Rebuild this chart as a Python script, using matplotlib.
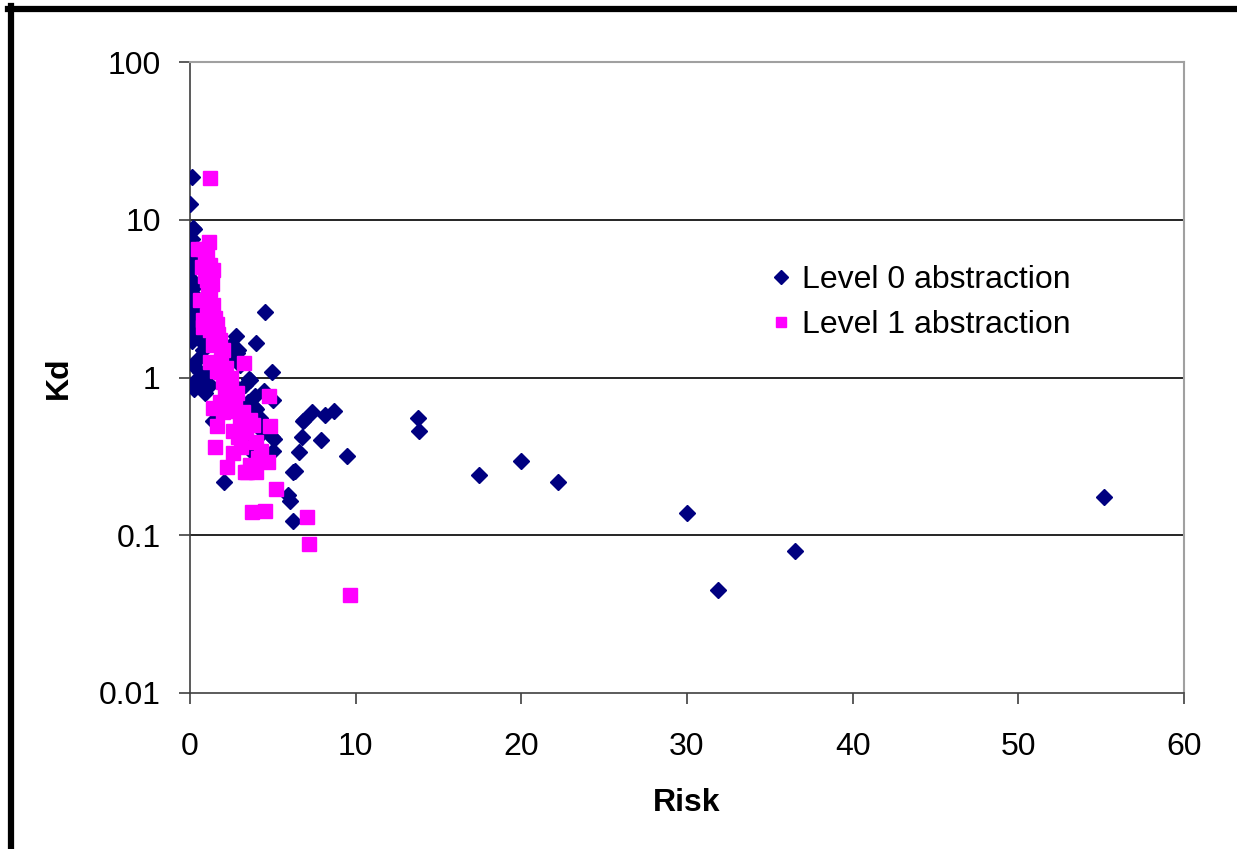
import matplotlib
matplotlib.use("Agg")
import matplotlib.pyplot as plt
from matplotlib.lines import Line2D
from matplotlib.ticker import FixedLocator, FixedFormatter, NullLocator

plt.rcParams['font.family'] = ['Liberation Sans', 'DejaVu Sans']

# Level 0 abstraction (navy diamonds)
risk0 = [0.12, 0.0, 0.25, 0.18, 0.1, 0.0, 0.0, 0.1, 0.3, 0.4, 0.0, 0.5, 0.3, 0.2,
         0.6, 0.8, 0.6, 0.3, 0.9, 0.24, 0.8, 1.4, 2.8, 2.9, 2.84, 2.7, 4.0, 4.5,
         3.6, 3.56, 4.95, 5.0, 3.9, 4.47, 4.0, 3.9, 4.1, 4.95, 5.0, 5.07, 3.74,
         2.05, 6.34, 6.2, 6.76, 6.8, 6.9, 7.36, 8.15, 8.7, 7.9, 6.6, 9.47,
         5.9, 6.03, 6.2, 13.76, 13.8, 17.44, 20.0, 22.2, 30.0, 31.9, 36.5, 55.2,
         0.05, 0.2, 0.15, 0.35, 0.1, 0.4, 0.5, 0.2, 0.7, 1.0, 1.2, 0.6, 0.3, 1.6,
         2.3, 2.5, 3.0, 3.3, 3.5, 2.9, 4.2, 4.4, 3.6, 4.3]
kd0 = [18.7, 12.6, 8.8, 8.9, 7.5, 6.4, 5.6, 4.8, 3.8, 3.1, 2.8, 2.7, 2.1, 1.93,
       1.74, 1.5, 1.08, 0.93, 0.8, 0.84, 1.05, 0.53, 1.82, 1.5, 1.44, 1.4, 1.66, 2.62,
       0.97, 0.985, 1.09, 0.72, 0.76, 0.82, 0.63, 0.64, 0.49, 0.42, 0.34, 0.405, 0.335,
       0.217, 0.254, 0.25, 0.42, 0.53, 0.54, 0.60, 0.575, 0.61, 0.40, 0.335, 0.316,
       0.18, 0.164, 0.123, 0.55, 0.455, 0.24, 0.294, 0.217, 0.138, 0.045, 0.080, 0.174,
       4.2, 3.4, 2.4, 2.3, 1.7, 1.3, 1.0, 1.2, 0.95, 1.1, 0.9, 5.0, 6.0, 1.2,
       1.3, 1.6, 1.2, 0.9, 0.7, 0.85, 0.55, 0.45, 0.4, 0.3]

# Level 1 abstraction (magenta squares)
risk1 = [1.21, 1.15, 0.8, 0.9, 1.4, 1.03, 1.2, 1.1, 1.3, 1.6, 1.8, 2.0, 0.8, 0.6,
         0.48, 0.8, 1.2, 1.8, 2.0, 2.1, 2.84, 3.26, 4.77, 1.4, 2.0, 2.3, 3.2, 3.6,
         1.6, 2.6, 4.83, 1.5, 3.1, 4.0, 4.1, 2.23, 3.44, 4.7, 3.3, 4.0, 5.2, 3.74,
         4.5, 7.06, 7.18, 9.66,
         0.7, 1.0, 1.2, 0.9, 1.3, 1.1, 1.4, 1.0, 1.5, 1.2, 1.7, 1.4, 1.9, 1.6,
         2.2, 2.5, 2.4, 1.8, 2.7, 3.0, 2.9, 3.4, 3.8, 2.6, 3.6, 4.3]
kd1 = [18.4, 7.2, 6.5, 5.6, 4.8, 4.17, 3.6, 3.1, 2.7, 2.17, 1.74, 1.5, 2.33, 3.1,
       6.5, 2.1, 1.26, 1.08, 0.93, 0.84, 0.80, 1.24, 0.76, 0.64, 0.6, 0.61, 0.6, 0.54,
       0.49, 0.455, 0.49, 0.36, 0.36, 0.39, 0.31, 0.27, 0.25, 0.29, 0.25, 0.25, 0.195, 0.14,
       0.142, 0.13, 0.088, 0.042,
       5.0, 6.0, 5.2, 4.4, 3.9, 3.4, 2.9, 2.5, 2.4, 2.0, 1.9, 1.6, 1.3, 1.1,
       1.15, 1.0, 0.75, 0.7, 0.65, 0.5, 0.42, 0.45, 0.5, 0.33, 0.28, 0.34]

x_ticks = [0, 10, 20, 30, 40, 50, 60]
y_ticks = [0.01, 0.1, 1, 10, 100]
y_tick_labels = ['0.01', '0.1', '1', '10', '100']

fig = plt.figure(figsize=(12.37, 8.49), dpi=100)
ax = fig.add_axes([190 / 1237, 1 - 693 / 849, 994 / 1237, 631 / 849])

ax.plot(risk0, kd0, linestyle='none', marker='D', markersize=8.5,
        color='#000080', label='Level 0 abstraction', zorder=3)
ax.plot(risk1, kd1, linestyle='none', marker='s', markersize=9.5,
        color='#FF00FF', label='Level 1 abstraction', zorder=3)

ax.set_yscale('log')
ax.set_xlim(0, 60)
ax.set_ylim(0.01, 100)
ax.xaxis.set_major_locator(FixedLocator(x_ticks))
ax.yaxis.set_major_locator(FixedLocator(y_ticks))
ax.yaxis.set_major_formatter(FixedFormatter(y_tick_labels))
ax.yaxis.set_minor_locator(NullLocator())

for v in [0.1, 1, 10]:
    ax.axhline(v, color='black', linewidth=1.2, zorder=1)

ax.spines['top'].set_color('#a0a0a0')
ax.spines['right'].set_color('#a0a0a0')
ax.spines['top'].set_linewidth(1.5)
ax.spines['right'].set_linewidth(1.5)
ax.spines['left'].set_color('#404040')
ax.spines['bottom'].set_color('#404040')
ax.spines['left'].set_linewidth(1.2)
ax.spines['bottom'].set_linewidth(1.2)

ax.tick_params(axis='both', direction='out', length=8, width=1.2,
               color='#404040', labelsize=23)
ax.tick_params(axis='y', pad=13)
ax.tick_params(axis='x', pad=20)

ax.set_xlabel('Risk', fontsize=23, fontweight='bold', labelpad=19)
ax.set_ylabel('Kd', fontsize=23, fontweight='bold', labelpad=18)

ax.legend(loc='upper left', bbox_to_anchor=(0.558, 0.713), frameon=False,
          fontsize=23, handletextpad=0.2, labelspacing=0.45, handlelength=0.9,
          markerscale=0.8, borderpad=0.2)

# thick black frame on left and top of the picture
fig.add_artist(Line2D([11 / 1237, 11 / 1237], [0, 1 - 6 / 849],
                      color='black', linewidth=4.5, transform=fig.transFigure))
fig.add_artist(Line2D([8 / 1237, 1], [1 - 9 / 849, 1 - 9 / 849],
                      color='black', linewidth=4.5, transform=fig.transFigure))

fig.savefig('out.png', dpi=100, facecolor='white')
